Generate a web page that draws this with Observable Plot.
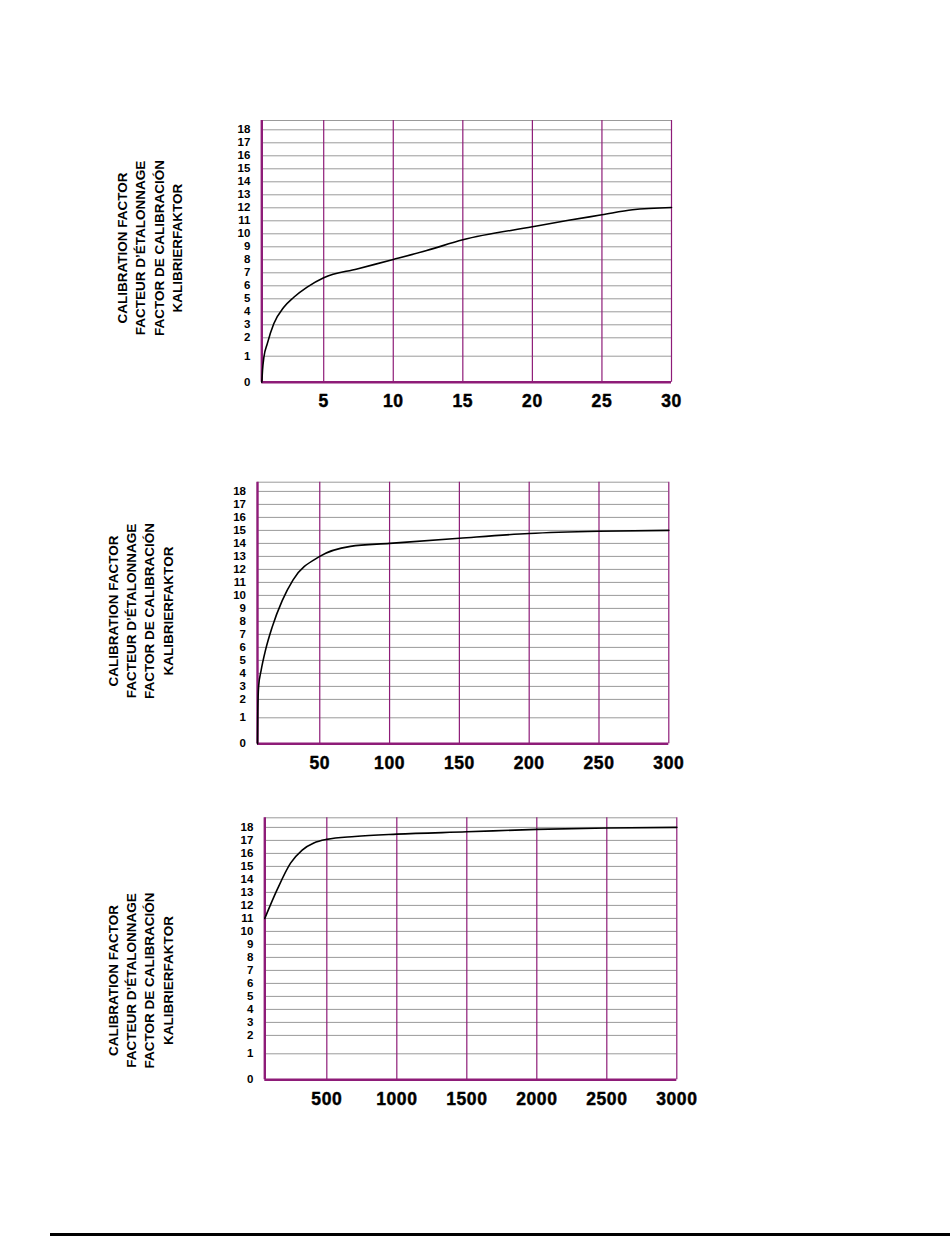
<!DOCTYPE html>
<html>
<head>
<meta charset="utf-8">
<script src="https://cdn.jsdelivr.net/npm/d3@7"></script>
<script src="https://cdn.jsdelivr.net/npm/@observablehq/plot@0.6"></script>
<style>
  html, body { margin: 0; padding: 0; background: #fff; }
  body { width: 950px; height: 1254px; position: relative; overflow: hidden; font-family: "Liberation Sans", Arial, sans-serif; }
  .chart svg { display: block; }
  #footerRule { position: absolute; left: 50px; top: 1232.5px; width: 900px; height: 3px; background: #000; }
</style>
</head>
<body>
<div id="c1" class="chart"></div>
<div id="c2" class="chart"></div>
<div id="c3" class="chart"></div>
<div id="footerRule"></div>
<script>
// ---- data ----
const yTitleLines = ["CALIBRATION FACTOR", "FACTEUR D’ÉTALONNAGE", "FACTOR DE CALIBRACIÓN", "KALIBRIERFAKTOR"];
const yTicks = [0, 1, 2, 3, 4, 5, 6, 7, 8, 9, 10, 11, 12, 13, 14, 15, 16, 17, 18];

const chart1Ticks = [5, 10, 15, 20, 25, 30];
const chart1X = [0.55, 0.6, 0.7, 0.94, 1.41, 2.13, 2.85, 3.81, 5, 7.4, 10, 12.4, 15, 20, 22.5, 25, 27.2, 30];
const chart1Y = [0, 0.45, 0.96, 1.67, 3.08, 4.35, 5.12, 5.9, 6.62, 7.3, 8.02, 8.71, 9.54, 10.54, 11.02, 11.46, 11.85, 12.02];

const chart2Ticks = [50, 100, 150, 200, 250, 300];
const chart2X = [5.4, 5.6, 6.2, 8.0, 11.1, 15.9, 23.1, 30.9, 50, 72, 100, 150, 200, 250, 300];
const chart2Y = [0, 1.36, 3.0, 4.23, 5.77, 7.56, 9.6, 11.2, 13.0, 13.77, 14.0, 14.4, 14.76, 14.93, 15.0];

const chart3Ticks = [500, 1000, 1500, 2000, 2500, 3000];
const chart3X = [57, 146, 241, 324, 407, 500, 700, 1000, 1500, 2000, 2500, 3000];
const chart3Y = [11, 13.23, 15.25, 16.26, 16.8, 17.08, 17.3, 17.48, 17.66, 17.85, 17.95, 18.0];

// ---- layout / style ----
const PURPLE = "#8e1c78";
const GRID = "#9a9a9a";
const FONT = '"Liberation Sans", Arial, Helvetica, sans-serif';

// The printed scale gives the 0–1 and 1–2 steps extra room (26px and 18.4px vs 13px per unit).
function stretchY(v) {
  if (v <= 1) return v * 2;
  if (v <= 2) return 2 + (v - 1) * 1.415;
  return 3.415 + (v - 2);
}

function makeChart(el, o) {
  const table = o.xs.map((x, i) => ({x, y: o.ys[i]}));
  const b = o.frameBottom, t = o.frameTop;
  const topT = (b - t) / 13; // stretched units at frame top
  const plot = Plot.plot({
    width: 950,
    height: o.svgH,
    marginTop: t,
    marginBottom: o.svgH - b,
    marginLeft: o.left,
    marginRight: 950 - o.right,
    style: {fontFamily: FONT, background: "#fff", color: "#000", overflow: "visible"},
    x: {domain: [o.xMin, o.xTicks[o.xTicks.length - 1]], axis: null},
    y: {type: "linear", domain: [0, topT], axis: null},
    marks: [
      Plot.ruleY(yTicks.slice(1).map(stretchY), {stroke: GRID, strokeWidth: 1}),
      Plot.ruleY([topT], {stroke: GRID, strokeWidth: 1}),
      Plot.ruleX(o.xTicks, {stroke: PURPLE, strokeWidth: 1.2}),
      Plot.ruleX([o.xMin], {stroke: PURPLE, strokeWidth: 2.4}),
      Plot.ruleY([0], {stroke: PURPLE, strokeWidth: 2.4}),
      Plot.line(table, {x: "x", y: d => stretchY(d.y), curve: "monotone-x", stroke: "#000", strokeWidth: 1.6}),
      Plot.text(yTicks, {
        x: o.xMin, y: d => stretchY(d), text: d => String(d), dx: -11.5,
        textAnchor: "end", fontSize: 11.5, fontWeight: "bold", fill: "#000"
      }),
      Plot.text(o.xTicks, {
        x: d => d, y: 0, text: d => String(d), dy: 19.5,
        textAnchor: "middle", fontSize: 17.5, fontWeight: "bold", fill: "#000",
        stroke: "#000", strokeWidth: 0.45, className: "xlab"
      }),
      Plot.text([yTitleLines.join("\n")], {
        text: d => d, frameAnchor: "left", rotate: -90,
        dx: o.titleDx, dy: o.titleDy, fontSize: 13.5, fontWeight: "bold", lineHeight: 1.36,
        textAnchor: "middle", lineAnchor: "middle", fill: "#000"
      })
    ]
  });
  d3.select(plot).selectAll(".xlab text").attr("letter-spacing", "0.6px");
  el.appendChild(plot);
}

makeChart(document.getElementById("c1"), {
  xs: chart1X, ys: chart1Y, xTicks: chart1Ticks, xMin: 0.55,
  svgH: 440, frameTop: 120, frameBottom: 381.7, left: 261.3, right: 671,
  titleDx: -113.3, titleDy: -3.3
});
makeChart(document.getElementById("c2"), {
  xs: chart2X, ys: chart2Y, xTicks: chart2Ticks, xMin: 5.4,
  svgH: 340, frameTop: 41.7, frameBottom: 303.3, left: 257, right: 668.3,
  titleDx: -118.1, titleDy: -2
});
makeChart(document.getElementById("c3"), {
  xs: chart3X, ys: chart3Y, xTicks: chart3Ticks, xMin: 57,
  svgH: 474, frameTop: 37.3, frameBottom: 299.3, left: 264.3, right: 676.3,
  titleDx: -125.4, titleDy: 31.7
});
</script>
</body>
</html>
